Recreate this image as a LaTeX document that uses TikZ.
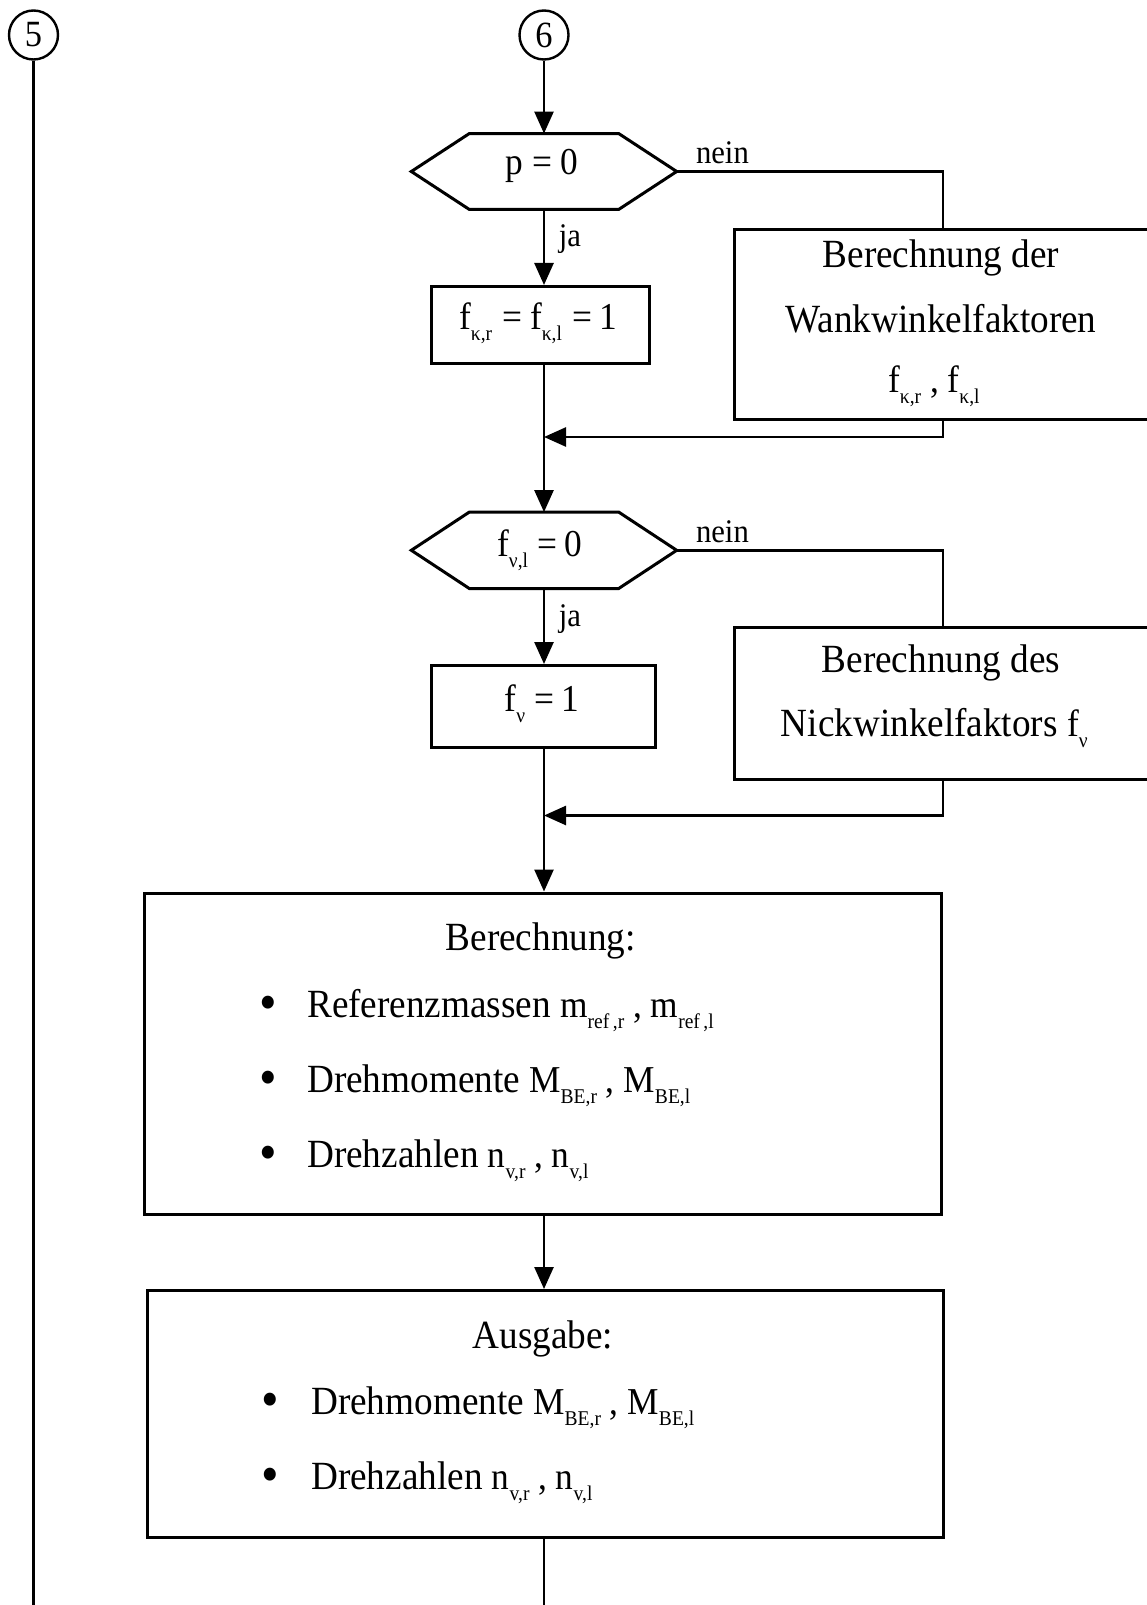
\documentclass[tikz,border=0pt]{standalone}
\usepackage{fontspec}
\setmainfont{Liberation Serif}[FakeStretch=0.93]
\usetikzlibrary{arrows.meta,calc}
\newcommand\txtsz{\fontsize{40}{48}\selectfont}
\newcommand\mathsz{\fontsize{38}{46}\selectfont}
\newcommand\lblsz{\fontsize{33}{40}\selectfont}
\newcommand\circsz{\fontsize{37}{44}\selectfont}
\newcommand\subsc[1]{\raisebox{-11pt}{\fontsize{21}{24}\selectfont #1}}
\newcommand\bulletmark[1]{\makebox[#1][l]{\raisebox{-3pt}{\fontsize{54}{54}\selectfont •}}}
\begin{document}
\begin{tikzpicture}[x=1pt,y=-1pt,
  conn/.style={line width=2.6pt},
  arr/.style={-{Triangle[length=22pt,width=19pt]}},
  boxst/.style={draw,line width=3pt,inner sep=0pt,anchor=north west},
  hexst/.style={inner sep=0pt,minimum width=265pt},
  hexline/.style={line width=3pt,line join=miter},
  circst/.style={draw,circle,line width=2.4pt,minimum size=49pt,inner sep=0pt,font=\circsz},
  txt/.style={inner sep=0pt,anchor=base,font=\txtsz},
  txtw/.style={inner sep=0pt,anchor=base west,font=\txtsz},
  mth/.style={inner sep=0pt,anchor=base west,font=\mathsz},
  lbl/.style={inner sep=0pt,anchor=base west,font=\lblsz}]
\useasboundingbox (0,0) rectangle (1146,1605);

% connectors circles
\node[circst] (c5) at (33.5,35) {5};
\node[circst] (c6) at (544,35) {6};
\coordinate (endL) at (33.5,1605);
\coordinate (endM) at (544,1605);

% first decision
\node[hexst,minimum height=75.5pt] (hex1) at (544,171.5) {};
\draw[hexline] (hex1.west) -- ($(hex1.north west)+(58,0)$) -- ($(hex1.north east)+(-58,0)$) -- (hex1.east) -- ($(hex1.south east)+(-58,0)$) -- ($(hex1.south west)+(58,0)$) -- cycle;
\node[mth,anchor=base] (t1) at (542,175) {p = 0};

\node[boxst,minimum width=218.4pt,minimum height=76.5pt] (fk) at (429.6,285) {};
\node[mth] (tfk) at (459,329) {f\subsc{κ,r}\hspace{10pt}=\hspace{8pt}f\subsc{κ,l}\hspace{10pt}=\hspace{8pt}1};

\node[boxst,minimum width=417.4pt,minimum height=190pt] (wank) at (732.6,228) {};
\node[txt] (w1) at (941,267) {Berechnung der};
\node[txt] (w2) at (941,332.5) {Wankwinkelfaktoren};
\node[mth] (w3) at (888,392) {f\subsc{κ,r} , f\subsc{κ,l}};

\node[lbl] (nein1) at (695.8,163.3) {nein};
\node[lbl] (ja1) at (558.7,246.7) {ja};
\coordinate (r1) at (544,437);

% second decision
\node[hexst,minimum height=76pt] (hex2) at (544,550.3) {};
\draw[hexline] (hex2.west) -- ($(hex2.north west)+(58,0)$) -- ($(hex2.north east)+(-58,0)$) -- (hex2.east) -- ($(hex2.south east)+(-58,0)$) -- ($(hex2.south west)+(58,0)$) -- cycle;
\node[mth] (t2) at (497,556.7) {f\subsc{ν,l}\hspace{9pt}=\hspace{7pt}0};

\node[boxst,minimum width=224pt,minimum height=81.5pt] (fv) at (429.6,664) {};
\node[mth] (tfv) at (504.5,711) {f\subsc{ν}\hspace{9pt}=\hspace{7pt}1};

\node[boxst,minimum width=417.4pt,minimum height=151.7pt] (nick) at (732.6,626) {};
\node[txt] (n1) at (941,672) {Berechnung des};
\node[txtw] (n2) at (780.7,736.7) {Nickwinkelfaktors {\mathsz f\subsc{ν}}};

\node[lbl] (nein2) at (695.8,542.7) {nein};
\node[lbl] (ja2) at (558.7,626.7) {ja};
\coordinate (r2) at (544,815.5);

% Berechnung box
\node[boxst,minimum width=796.3pt,minimum height=321.5pt] (ber) at (143.2,891.5) {};
\node[txt] (b0) at (540.7,950.6) {Berechnung:};
\node[txtw] (b1) at (259,1017) {\bulletmark{48pt}Referenzmassen {\mathsz m\subsc{ref\,,r} , m\subsc{ref\,,l}}};
\node[txtw] (b2) at (259,1092) {\bulletmark{48pt}Drehmomente {\mathsz M\subsc{BE,r} , M\subsc{BE,l}}};
\node[txtw] (b3) at (259,1167) {\bulletmark{48pt}Drehzahlen {\mathsz n\subsc{v,r} , n\subsc{v,l}}};

% Ausgabe box
\node[boxst,minimum width=795.5pt,minimum height=246.5pt] (aus) at (146,1289) {};
\node[txt] (a0) at (542.9,1348.6) {Ausgabe:};
\node[txtw] (a1) at (261,1414.5) {\bulletmark{50pt}Drehmomente {\mathsz M\subsc{BE,r} , M\subsc{BE,l}}};
\node[txtw] (a2) at (261,1489.5) {\bulletmark{50pt}Drehzahlen {\mathsz n\subsc{v,r} , n\subsc{v,l}}};

% connectors
\draw[conn] (c5) -- (endL);
\draw[conn,arr] (c6) -- (hex1.north);
\draw[conn,arr] (hex1.south) -- (hex1.south |- fk.north);
\draw[conn] (hex1.east) -| (wank.north);
\draw[conn,arr] (wank.south) |- (r1);
\draw[conn,arr] (fk.south -| hex1.south) -- (hex2.north);
\draw[conn,arr] (hex2.south) -- (hex2.south |- fv.north);
\draw[conn] (hex2.east) -| (nick.north);
\draw[conn,arr] (nick.south) |- (r2);
\draw[conn,arr] (fv.south -| hex2.south) -- (ber.north -| hex2.south);
\draw[conn,arr] (ber.south -| hex2.south) -- (aus.north -| hex2.south);
\draw[conn] (aus.south -| hex2.south) -- (endM);
\end{tikzpicture}
\end{document}
